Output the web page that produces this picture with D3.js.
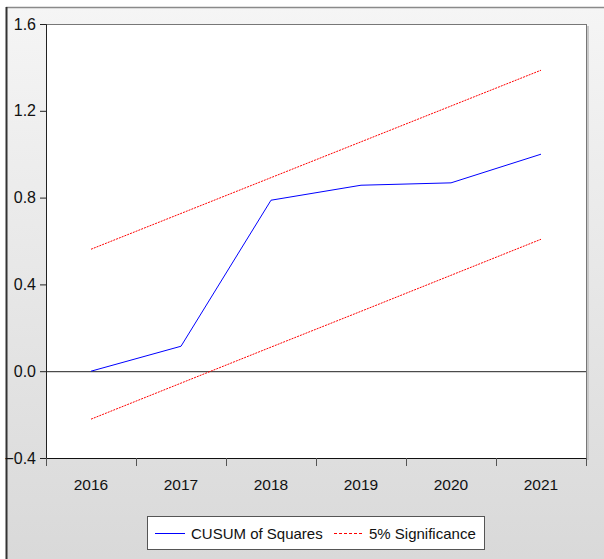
<!DOCTYPE html>
<html><head><meta charset="utf-8">
<script src="https://cdn.jsdelivr.net/npm/d3@7"></script>
<style>html,body{margin:0;padding:0;background:#fff;}svg{display:block;}</style>
</head><body>
<script>
const years = ["2016","2017","2018","2019","2020","2021"];
const cusumSq = [0.0, 0.115, 0.788, 0.857, 0.868, 1.0];
const upper5 = [0.562, 0.727, 0.892, 1.057, 1.222, 1.387];
const lower5 = [-0.221, -0.055, 0.111, 0.276, 0.442, 0.608];
const yTicks = [-0.4, 0.0, 0.4, 0.8, 1.2, 1.6];
const legendLabels = ["CUSUM of Squares", "5% Significance"];

const W = 604, H = 559;
const svg = d3.select("body").append("svg").attr("width", W).attr("height", H);
const defs = svg.append("defs");
const g = defs.append("linearGradient").attr("id","bg").attr("x1",0).attr("y1",0).attr("x2",0).attr("y2",1);
g.append("stop").attr("offset","0%").attr("stop-color","#f5f5f5");
g.append("stop").attr("offset","100%").attr("stop-color","#d9d9d9");

svg.append("rect").attr("x",6).attr("y",7).attr("width",W-6).attr("height",H-7).attr("fill","url(#bg)");
svg.append("line").attr("x1",6).attr("x2",W).attr("y1",7.5).attr("y2",7.5).attr("stroke","#8a8a8a").attr("stroke-width",1.5);
svg.append("line").attr("x1",6.5).attr("x2",6.5).attr("y1",7).attr("y2",H).attr("stroke","#333").attr("stroke-width",2);

const L = 46, R = 586, T = 24, B = 458;
const x = d3.scaleBand().domain(years).range([L, R]);
const y = d3.scaleLinear().domain([-0.4, 1.6]).range([B, T]);

// plot area
svg.append("rect").attr("x",R+1).attr("y",T+2).attr("width",2).attr("height",B-T).attr("fill","#c8c8c8");
svg.append("rect").attr("x",L).attr("y",T).attr("width",R-L).attr("height",B-T).attr("fill","#fff");
svg.append("line").attr("x1",L).attr("x2",R+1).attr("y1",T+0.5).attr("y2",T+0.5).attr("stroke","#777");
svg.append("line").attr("x1",R+0.5).attr("x2",R+0.5).attr("y1",T).attr("y2",B).attr("stroke","#777");

const font = "'Liberation Sans', Arial, sans-serif";

// y axis
const yAxis = d3.axisLeft(y).tickValues(yTicks).tickFormat(d3.format(".1f")).tickSize(6).tickPadding(4);
const ya = svg.append("g").attr("transform",`translate(${L},0)`).call(yAxis);
ya.select(".domain").attr("stroke","#222");
ya.selectAll(".tick line").attr("stroke","#222");
ya.selectAll("text").attr("font-family",font).attr("font-size",16).attr("fill","#111");

// x axis ticks at band boundaries
const bounds = years.map(d => x(d)).concat([R]);
const xa = svg.append("g");
xa.append("line").attr("x1",L).attr("x2",R).attr("y1",B+0.5).attr("y2",B+0.5).attr("stroke","#111");
xa.selectAll("line.t").data(bounds).join("line").attr("class","t")
  .attr("x1",d=>d+0.5).attr("x2",d=>d+0.5).attr("y1",B).attr("y2",B+8).attr("stroke","#555");
xa.selectAll("text").data(years).join("text")
  .attr("x",d=>x(d)+x.bandwidth()/2).attr("y",B+32).attr("text-anchor","middle")
  .attr("font-family",font).attr("font-size",15.5).attr("fill","#111").text(d=>d);

// zero line
svg.append("line").attr("x1",L).attr("x2",R).attr("y1",y(0)+0.5).attr("y2",y(0)+0.5).attr("stroke","#222");

const cx = d => x(d)+x.bandwidth()/2;
const line = d3.line().x((d,i)=>cx(years[i])).y(d=>y(d));
svg.append("path").datum(upper5).attr("d",line).attr("fill","none").attr("stroke","#ff0000").attr("stroke-width",1).attr("stroke-dasharray","2,1");
svg.append("path").datum(lower5).attr("d",line).attr("fill","none").attr("stroke","#ff0000").attr("stroke-width",1).attr("stroke-dasharray","2,1");
svg.append("path").datum(cusumSq).attr("d",line).attr("fill","none").attr("stroke","#0000ff").attr("stroke-width",1);

// legend
const lg = svg.append("g");
lg.append("rect").attr("x",147.5).attr("y",516.5).attr("width",337).attr("height",33).attr("fill","#fff").attr("stroke","#555");
lg.append("line").attr("x1",155).attr("x2",185).attr("y1",533.5).attr("y2",533.5).attr("stroke","#0000ff");
lg.append("text").attr("x",191).attr("y",539).attr("font-family",font).attr("font-size",15).attr("fill","#111").text(legendLabels[0]);
lg.append("line").attr("x1",334).attr("x2",362).attr("y1",533.5).attr("y2",533.5).attr("stroke","#ff0000").attr("stroke-dasharray","3,2");
lg.append("text").attr("x",369).attr("y",539).attr("font-family",font).attr("font-size",15).attr("fill","#111").text(legendLabels[1]);
</script>
</body></html>
